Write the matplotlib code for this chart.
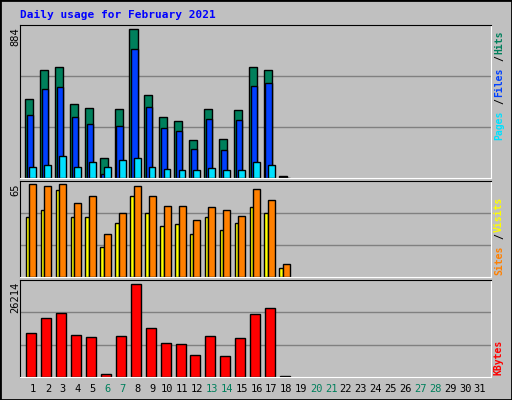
import matplotlib
matplotlib.use('Agg')
import matplotlib.pyplot as plt
import numpy as np

days = list(range(1, 32))
weekend = [6, 7, 13, 14, 20, 21, 27, 28]

hits = [470, 638, 656, 440, 416, 116, 410, 884, 494, 362, 338, 224, 410, 230, 404, 656, 638, 10]
files = [374, 530, 542, 362, 320, 24, 308, 764, 422, 296, 278, 170, 350, 164, 344, 548, 566, 5]
pages = [68, 80, 128, 68, 92, 68, 104, 116, 68, 56, 50, 50, 62, 50, 50, 92, 80, 2]
visits = [42, 47, 61, 42, 42, 21, 38, 57, 45, 36, 37, 30, 42, 33, 38, 49, 45, 6]
sites = [65, 64, 65, 52, 57, 30, 45, 64, 57, 50, 50, 40, 49, 47, 43, 62, 54, 9]
kbytes = [12437, 16742, 18179, 11863, 11289, 957, 11576, 26214, 13872, 9567,
          9280, 6123, 11576, 5836, 11002, 17891, 19613, 290]

BG = '#C0C0C0'
W, H = 512, 400
fig = plt.figure(figsize=(5.12, 4.0), dpi=100, facecolor=BG)
fig.patches.append(plt.Rectangle((0, 0), 1, 1, transform=fig.transFigure,
                                 fill=False, edgecolor='black', lw=2))
mono = 'DejaVu Sans Mono'


def make_ax(top, bottom, ymax):
    ax = fig.add_axes([20 / W, 1 - bottom / H, 471 / W, (bottom - top) / H])
    ax.set_facecolor(BG)
    ax.set_xlim(0.12, 31.7)
    ax.set_ylim(0, ymax)
    for g in (ymax / 3, 2 * ymax / 3):
        ax.axhline(g, color='#808080', lw=1, zorder=0)
    ax.set_xticks([])
    ax.set_yticks([])
    for s in ('top', 'left'):
        ax.spines[s].set_color('black')
    for s in ('right', 'bottom'):
        ax.spines[s].set_color('white')
    return ax


def bars(ax, vals, left, right, color):
    x = np.arange(1, len(vals) + 1)
    ax.bar(x + left, vals, width=right - left, align='edge', color=color,
           edgecolor='black', lw=1, zorder=2)


ax1 = make_ax(25, 178, 908)
bars(ax1, hits, -0.54, 0.0, '#00805C')
bars(ax1, files, -0.42, 0.0, '#0040FF')
bars(ax1, pages, -0.25, 0.2, '#00E0FF')

ax2 = make_ax(181, 277, 67.4)
bars(ax2, visits, -0.49, -0.25, '#FFFF00')
bars(ax2, sites, -0.25, 0.22, '#FF8000')

ax3 = make_ax(280, 377, 27447)
bars(ax3, kbytes, -0.45, 0.22, '#FF0000')

fig.text(20 / W, 1 - 15 / H, 'Daily usage for February 2021', color='#0000FF',
         family=mono, weight='bold', fontsize=8, va='center')

for y, lab in [(25, '884'), (181, '65'), (280, '26214')]:
    fig.text(15 / W, 1 - (y + 2) / H, lab, rotation=90, family=mono,
             fontsize=7.5, ha='center', va='top')


def side_label(parts, y_bottom):
    y = y_bottom
    for txt, col in parts:
        fig.text(499 / W, 1 - y / H, txt, rotation=90, color=col, family=mono,
                 weight='bold', fontsize=7, ha='center', va='bottom')
        y -= len(txt) * 7.2


side_label([('Pages', '#00E0FF'), ('/', 'black'), ('Files', '#0040FF'),
            ('/', 'black'), ('Hits', '#00805C')], 140)
side_label([('Sites', '#FF8000'), ('/', 'black'), ('Visits', '#FFFF00')], 275)
side_label([('KBytes', '#FF0000')], 375)

for d in days:
    xpx = 33 + (d - 1) * 14.9
    fig.text(xpx / W, 1 - 389 / H, str(d), ha='center', va='center',
             family=mono, fontsize=7.5,
             color='#00805C' if d in weekend else 'black')

fig.savefig('out.png', dpi=100, facecolor=BG)
